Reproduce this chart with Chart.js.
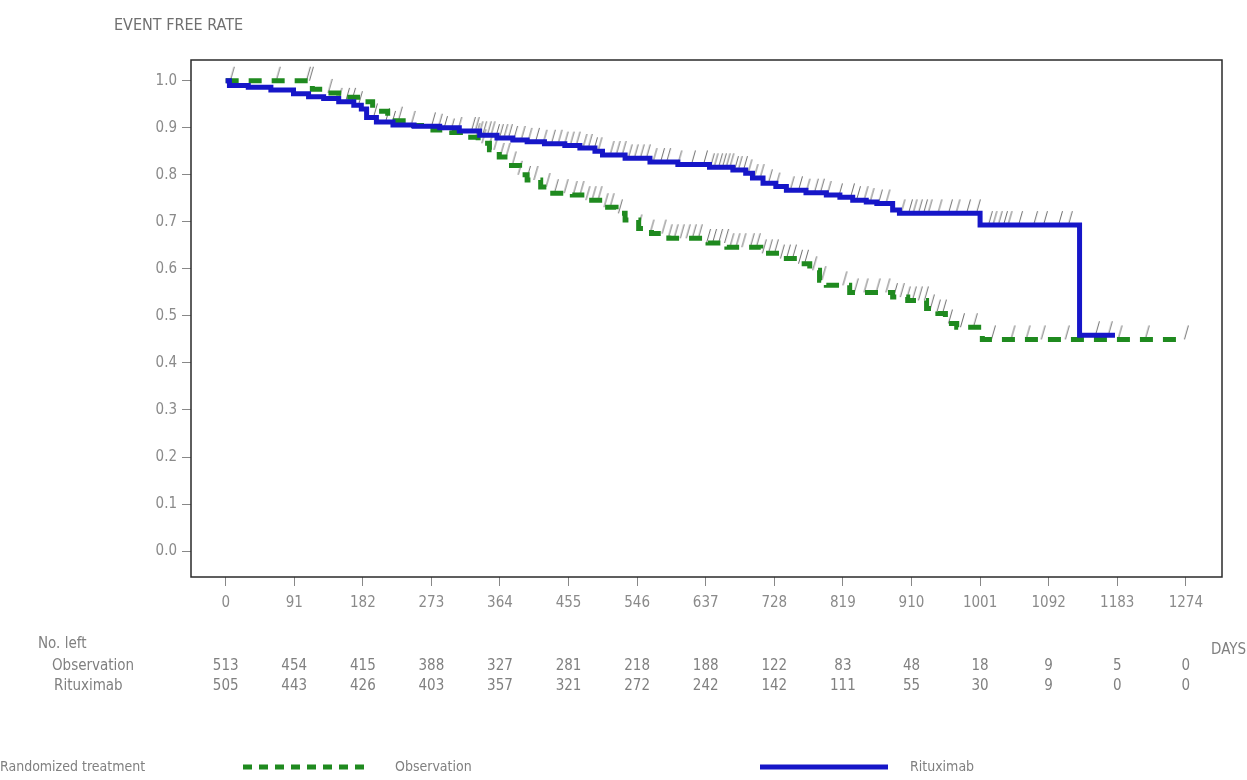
<!DOCTYPE html>
<html>
  <head>
    <title>Event free rate</title>
    <script src="https://cdn.jsdelivr.net/npm/chart.js"></script>
    <style>
      body {
        margin: 0;
        background: #fff;
        font-family: "Liberation Sans Narrow", "DejaVu Sans Condensed", Arial, sans-serif;
        color: #808080;
      }
      .wrap {
        position: absolute;
        left: 0;
        top: 0;
        width: 1247px;
        height: 780px;
      }
      .lbl {
        position: absolute;
        white-space: nowrap;
        line-height: 1;
      }
    </style>
  </head>
  <body>
    <div class="wrap"><canvas id="myChart"></canvas></div>

    <div class="lbl" style="left:114px; top:17px; font-size:16px; color:#707070">EVENT FREE RATE</div>
    <div class="lbl" style="left:38px; top:636px; font-size:15px">No. left</div>
    <div class="lbl" style="left:52px; top:658px; font-size:15px">Observation</div>
    <div class="lbl" style="left:54px; top:678px; font-size:15px">Rituximab</div>
    <div class="lbl" style="left:1211px; top:642px; font-size:15px">DAYS</div>

    <div class="lbl" style="left:0px; top:759px; font-size:14px">Randomized treatment</div>
    <svg style="position:absolute; left:243px; top:762px" width="130" height="10">
      <line x1="0" y1="5" x2="128" y2="5" stroke="#1f8a1f" stroke-width="5" stroke-dasharray="9,7" />
    </svg>
    <div class="lbl" style="left:395px; top:759px; font-size:14px">Observation</div>
    <svg style="position:absolute; left:760px; top:762px" width="130" height="10">
      <line x1="0" y1="5" x2="128" y2="5" stroke="#1616c8" stroke-width="5" />
    </svg>
    <div class="lbl" style="left:910px; top:759px; font-size:14px">Rituximab</div>

    <script>
      // tick days and number at risk
      const days = [0, 91, 182, 273, 364, 455, 546, 637, 728, 819, 910, 1001, 1092, 1183, 1274];
      const obsLeft = [513, 454, 415, 388, 327, 281, 218, 188, 122, 83, 48, 18, 9, 5, 0];
      const ritLeft = [505, 443, 426, 403, 357, 321, 272, 242, 142, 111, 55, 30, 9, 0, 0];
      const rateTicks = [0, 0.1, 0.2, 0.3, 0.4, 0.5, 0.6, 0.7, 0.8, 0.9, 1.0];

      // Kaplan-Meier steps
      const obsDays = [0, 115, 129, 150, 175, 195, 215, 240, 275, 300, 320, 335, 350, 363, 375, 390, 400, 418, 430, 460, 480, 500, 518, 530, 548, 565, 588, 640, 665, 710, 735, 762, 775, 788, 797, 828, 885, 905, 930, 945, 955, 970, 1004, 1274];
      const obsRate = [1.0, 0.982, 0.974, 0.965, 0.955, 0.935, 0.915, 0.905, 0.895, 0.89, 0.88, 0.867, 0.853, 0.838, 0.82, 0.8, 0.789, 0.774, 0.761, 0.757, 0.746, 0.731, 0.718, 0.704, 0.686, 0.675, 0.665, 0.655, 0.646, 0.633, 0.622, 0.611, 0.597, 0.576, 0.565, 0.55, 0.54, 0.533, 0.516, 0.505, 0.484, 0.476, 0.45, 0.45];

      const ritDays = [0, 5, 30, 60, 90, 110, 130, 150, 170, 180, 187, 200, 222, 250, 284, 310, 337, 360, 381, 400, 423, 450, 470, 490, 500, 530, 563, 600, 642, 673, 690, 699, 713, 730, 744, 770, 797, 815, 832, 850, 864, 885, 894, 1001, 1133, 1180];
      const ritRate = [1.0, 0.99, 0.986, 0.98, 0.972, 0.966, 0.962, 0.955, 0.948, 0.94, 0.922, 0.912, 0.906, 0.903, 0.9, 0.893, 0.884, 0.878, 0.874, 0.87, 0.866, 0.862, 0.857, 0.85, 0.842, 0.835, 0.827, 0.822, 0.816, 0.81, 0.803, 0.793, 0.782, 0.775, 0.767, 0.762, 0.757, 0.752, 0.746, 0.742, 0.739, 0.725, 0.718, 0.693, 0.459, 0.459];

      // censored observations
      const obsCensor = [8, 69, 109, 113, 138, 231, 291, 300, 334, 342, 350, 358, 366, 374, 382, 390, 401, 411, 427, 438, 451, 463, 472, 480, 488, 496, 504, 512, 523, 549, 565, 581, 589, 597, 605, 613, 621, 629, 640, 648, 656, 664, 671, 679, 687, 698, 706, 714, 722, 730, 738, 746, 754, 762, 770, 781, 793, 821, 836, 849, 865, 878, 888, 897, 905, 913, 921, 929, 937, 945, 953, 961, 977, 994, 1018, 1044, 1064, 1084, 1116, 1186, 1222, 1274];
      const ritCensor = [151, 161, 169, 178, 198, 214, 222, 248, 275, 284, 310, 328, 333, 338, 343, 349, 354, 360, 365, 371, 377, 384, 394, 403, 413, 423, 434, 443, 451, 459, 467, 476, 483, 490, 496, 512, 520, 528, 536, 544, 552, 560, 569, 579, 587, 602, 620, 636, 645, 650, 656, 661, 666, 671, 677, 682, 689, 695, 703, 711, 722, 732, 751, 762, 772, 783, 791, 800, 815, 831, 839, 849, 857, 868, 878, 898, 908, 914, 921, 928, 934, 947, 961, 971, 985, 998, 1014, 1020, 1027, 1034, 1040, 1054, 1074, 1087, 1107, 1120, 1156, 1173];

      function rateAt(ds, rs, t) {
        let r = rs[0];
        for (let i = 0; i < ds.length; i++) {
          if (ds[i] <= t) r = rs[i];
        }
        return r;
      }

      function toPoints(ds, rs) {
        return ds.map((d, i) => ({ x: d, y: rs[i] }));
      }

      // little "/" mark, drawn only in the upper half so it sits on the curve
      const tick = document.createElement("canvas");
      tick.width = 10;
      tick.height = 30;
      const tc = tick.getContext("2d");
      tc.strokeStyle = "#6e6e6e";
      tc.lineWidth = 1;
      tc.beginPath();
      tc.moveTo(3.5, 15);
      tc.lineTo(7.5, 1);
      tc.stroke();

      const boxPlugin = {
        id: "box",
        afterDraw(chart) {
          const a = chart.chartArea;
          const ctx = chart.ctx;
          ctx.save();
          ctx.strokeStyle = "#2a2a2a";
          ctx.lineWidth = 1.5;
          ctx.strokeRect(a.left, a.top, a.right - a.left, a.bottom - a.top);

          // numbers at risk under each day tick
          const xs = chart.scales.x;
          ctx.fillStyle = "#808080";
          ctx.font = '15px "Liberation Sans Narrow", "DejaVu Sans Condensed", Arial';
          ctx.textAlign = "center";
          ctx.textBaseline = "middle";
          for (let i = 0; i < days.length; i++) {
            const x = xs.getPixelForValue(days[i]);
            ctx.fillText(String(obsLeft[i]), x, 666);
            ctx.fillText(String(ritLeft[i]), x, 686);
          }
          ctx.restore();
        },
      };

      const ctx = document.getElementById("myChart").getContext("2d");
      new Chart(ctx, {
        type: "line",
        data: {
          datasets: [
            {
              label: "Observation",
              data: toPoints(obsDays, obsRate),
              stepped: "before",
              borderColor: "#1f8a1f",
              borderWidth: 5,
              borderDash: [13, 10],
              pointRadius: 0,
              fill: false,
              order: 1,
            },
            {
              label: "Rituximab",
              data: toPoints(ritDays, ritRate),
              stepped: "before",
              borderColor: "#1616c8",
              borderWidth: 5,
              pointRadius: 0,
              fill: false,
              order: 0,
            },
            {
              label: "obs censored",
              data: obsCensor.map((d) => ({ x: d, y: rateAt(obsDays, obsRate, d) })),
              showLine: false,
              pointStyle: tick,
              pointRadius: 5,
              order: 2,
            },
            {
              label: "rit censored",
              data: ritCensor.map((d) => ({ x: d, y: rateAt(ritDays, ritRate, d) })),
              showLine: false,
              pointStyle: tick,
              pointRadius: 5,
              order: 2,
            },
          ],
        },
        options: {
          responsive: true,
          maintainAspectRatio: false,
          animation: false,
          layout: { padding: { left: 0, top: 60, right: 25, bottom: 163 } },
          plugins: { legend: { display: false }, tooltip: { enabled: false } },
          scales: {
            x: {
              type: "linear",
              min: -46,
              max: 1322,
              afterBuildTicks: (s) => {
                s.ticks = days.map((v) => ({ value: v }));
              },
              afterFit: (s) => {
                s.height = 40;
              },
              grid: { drawOnChartArea: false, tickLength: 9, tickColor: "#888" },
              border: { display: false },
              ticks: {
                autoSkip: false,
                maxRotation: 0,
                padding: 8,
                color: "#8a8a8a",
                font: { family: '"Liberation Sans Narrow", "DejaVu Sans Condensed", Arial', size: 15 },
                callback: (v) => String(v),
              },
            },
            y: {
              min: -0.055,
              max: 1.044,
              afterBuildTicks: (s) => {
                s.ticks = rateTicks.map((v) => ({ value: v }));
              },
              afterFit: (s) => {
                s.width = 191;
              },
              grid: { drawOnChartArea: false, tickLength: 9, tickColor: "#888" },
              border: { display: false },
              ticks: {
                padding: 5,
                color: "#8a8a8a",
                font: { family: '"Liberation Sans Narrow", "DejaVu Sans Condensed", Arial', size: 15 },
                callback: (v) => Number(v).toFixed(1),
              },
            },
          },
        },
        plugins: [boxPlugin],
      });
    </script>
  </body>
</html>
